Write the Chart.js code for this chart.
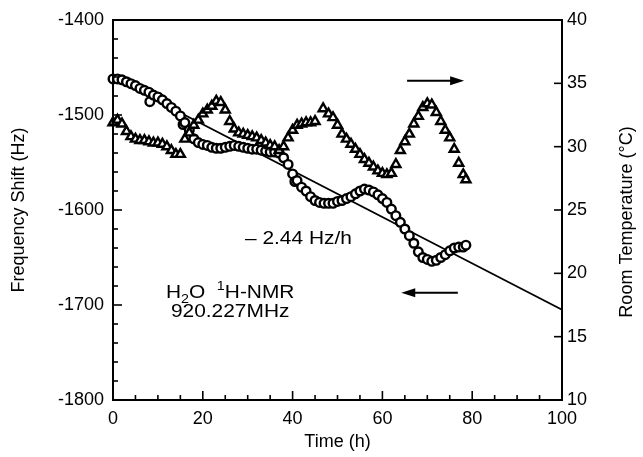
<!DOCTYPE html>
<html><head><meta charset="utf-8">
<script src="https://cdn.jsdelivr.net/npm/chart.js@4.4.0/dist/chart.umd.min.js"></script>
<style>html,body{margin:0;padding:0;background:#fff;overflow:hidden}</style>
</head><body>
<canvas id="c" width="643" height="457"></canvas>
<script>
// ---- data ----
const freqTime = [0,1,2,3,4,5,6,7,8,8.2,9,10,11,12,13,14,15,15.6,16,17,18,19,20,21,22,23,24,25,26,27,28,29,30,31,32,33,34,35,36,37,38,39,40,40.5,41,42,43,44,45,46,47,48,49,50,51,52,53,54,55,56,57,58,59,60,61,62,63,64,65,66,67,68,69,70,71,72,73,74,75,76,77,78,78.6];
const freqShift = [-1462,-1462,-1463,-1465,-1467,-1469,-1472,-1474,-1476,-1486,-1479,-1481,-1484,-1488,-1492,-1496,-1501,-1510,-1508,-1516,-1525,-1529,-1531,-1532,-1534,-1535,-1535,-1534,-1533,-1532,-1533,-1534,-1535,-1536,-1536,-1537,-1538,-1539,-1539,-1540,-1545,-1552,-1562,-1570,-1569,-1576,-1580,-1586,-1590,-1592,-1593,-1593,-1593,-1591,-1590,-1588,-1586,-1583,-1580,-1578,-1579,-1581,-1584,-1588,-1592,-1599,-1606,-1613,-1620,-1627,-1635,-1644,-1650,-1652,-1654,-1653,-1650,-1647,-1643,-1640,-1639,-1639,-1637];
const tempTime = [0,1,2,3,4,5,6,7,8,9,10,11,12,13,14,15,16,17,18,19,20,21,22,23,24,25,26,27,28,29,30,31,32,33,34,35,36,37,38,39,40,41,42,43,44,45,46.8,48,49,50,51,52,53,54,55,56,57,58,59,60,61,62,63,64,65,66,67,68,69,70,71,72,73,74,75,76,77,78,78.6];
const roomTemp = [31.9,32.1,31.8,31.2,30.8,30.6,30.5,30.5,30.4,30.3,30.3,30.2,30.0,29.7,29.4,29.4,30.6,31.1,31.7,32.1,32.6,32.9,33.2,33.6,33.5,32.9,32.0,31.4,31.1,31.0,30.9,30.8,30.7,30.5,30.3,30.1,30.0,29.7,30.0,30.7,31.3,31.7,31.8,31.9,31.9,32.0,33.0,32.6,32.3,31.7,31.0,30.6,30.2,29.8,29.4,29.0,28.7,28.4,28.1,27.9,27.8,27.9,28.6,29.7,30.4,31.0,31.8,32.4,33.1,33.4,33.3,32.7,32.0,31.3,30.7,29.8,28.7,27.8,27.4];
const fitTime = [0, 100];
const fitFreq = [-1461, -1705];
const slopeText = '\u2013 2.44 Hz/h';
const xMajorTicks = [0, 20, 40, 60, 80, 100];
const freqMajorTicks = [-1800, -1700, -1600, -1500, -1400];
const tempTicks = [10, 15, 20, 25, 30, 35, 40];

const FONT = '"Liberation Sans", Arial, Helvetica, sans-serif';
Chart.defaults.font.family = FONT;
Chart.defaults.color = '#000';

const pairs = (xs, ys) => xs.map((x, i) => ({x, y: ys[i]}));

const decor = {
  id: 'decor',
  afterDraw(chart) {
    const {ctx, chartArea: a, scales} = chart;
    const X = scales.x, Y = scales.y, Y2 = scales.y2;
    ctx.save();
    ctx.strokeStyle = '#000';
    ctx.fillStyle = '#000';
    ctx.lineWidth = 2;
    ctx.strokeRect(a.left, a.top, a.right - a.left, a.bottom - a.top);
    ctx.lineWidth = 1.6;
    const seg = (x1, y1, x2, y2) => { ctx.beginPath(); ctx.moveTo(x1, y1); ctx.lineTo(x2, y2); ctx.stroke(); };
    X.ticks.forEach(t => {
      const p = X.getPixelForValue(t.value);
      seg(p, a.bottom, p, a.bottom - (xMajorTicks.includes(t.value) ? 9 : 5));
    });
    Y.ticks.forEach(t => {
      const p = Y.getPixelForValue(t.value);
      seg(a.left, p, a.left + (freqMajorTicks.includes(t.value) ? 9 : 5), p);
    });
    Y2.ticks.forEach(t => {
      const p = Y2.getPixelForValue(t.value);
      seg(a.right, p, a.right - 8, p);
    });
    // arrows
    const arrow = (h1, h2, f) => {
      const x1 = X.getPixelForValue(h1), x2 = X.getPixelForValue(h2), y = Y.getPixelForValue(f);
      const dir = Math.sign(x2 - x1);
      ctx.lineWidth = 2;
      seg(x1, y, x2 - dir * 8, y);
      ctx.beginPath();
      ctx.moveTo(x2, y);
      ctx.lineTo(x2 - dir * 14, y - 4.5);
      ctx.lineTo(x2 - dir * 14, y + 4.5);
      ctx.closePath();
      ctx.fill();
    };
    arrow(65.5, 78.2, -1464);
    arrow(76.8, 64.2, -1687);
    // texts
    const sx = 1.1;
    const txt = (s, x, y, size, align) => {
      ctx.save();
      ctx.font = size + 'px ' + FONT;
      ctx.textBaseline = 'alphabetic';
      const w = ctx.measureText(s).width * sx;
      let x0 = x;
      if (align === 'center') x0 = x - w / 2;
      ctx.translate(x0, y);
      ctx.scale(sx, 1);
      ctx.fillText(s, 0, 0);
      ctx.restore();
      return w;
    };
    const measure = (s, size) => { ctx.font = size + 'px ' + FONT; return ctx.measureText(s).width * sx; };
    txt(slopeText, X.getPixelForValue(29.4), Y.getPixelForValue(-1636), 19, 'left');
    // H2O 1H-NMR
    const by = Y.getPixelForValue(-1693);
    const parts = [['H', 19, 0], ['2', 13, 5], ['O  ', 19, 0], ['1', 13, -8], ['H-NMR', 19, 0]];
    const total = parts.reduce((s, p) => s + measure(p[0], p[1]), 0);
    let cx = X.getPixelForValue(26.1) - total / 2;
    parts.forEach(p => { cx += txt(p[0], cx, by + p[2], p[1], 'left'); });
    txt('920.227MHz', X.getPixelForValue(26.1), Y.getPixelForValue(-1712.5), 19, 'center');
    // right axis title (reads bottom to top)
    ctx.save();
    ctx.font = '18px ' + FONT;
    ctx.textAlign = 'center';
    ctx.textBaseline = 'middle';
    ctx.translate(627, (a.top + a.bottom) / 2 + 12);
    ctx.rotate(-Math.PI / 2);
    ctx.fillText('Room Temperature (\u00B0C)', 0, 0);
    ctx.restore();
    ctx.restore();
  }
};

const tickFont = {size: 18, family: FONT};
new Chart(document.getElementById('c'), {
  type: 'scatter',
  data: {
    datasets: [
      {
        label: 'fit', type: 'line', data: pairs(fitTime, fitFreq), yAxisID: 'y',
        borderColor: '#000', borderWidth: 1.8, pointRadius: 0, fill: false, order: 3
      },
      {
        label: 'Frequency shift', data: pairs(freqTime, freqShift), yAxisID: 'y',
        pointStyle: 'circle', pointRadius: 4.3, pointBorderWidth: 2.4,
        pointBackgroundColor: '#fff', pointBorderColor: '#000', clip: false, order: 2
      },
      {
        label: 'Room temperature', data: pairs(tempTime, roomTemp), yAxisID: 'y2',
        pointStyle: 'triangle', pointRadius: 5.2, pointBorderWidth: 2.4,
        pointBackgroundColor: '#fff', pointBorderColor: '#000', clip: false, order: 1
      }
    ]
  },
  options: {
    responsive: false, animation: false, devicePixelRatio: 1,
    layout: {padding: {top: 20, left: 0, right: 0, bottom: 0}},
    plugins: {legend: {display: false}, tooltip: {enabled: false}},
    scales: {
      x: {
        type: 'linear', position: 'bottom', min: 0, max: 100,
        grid: {display: false, drawTicks: false}, border: {display: false},
        ticks: {stepSize: 5, autoSkip: false, maxRotation: 0, padding: 8, font: tickFont, color: '#000',
          callback: v => xMajorTicks.includes(v) ? String(v) : ''},
        title: {display: true, text: 'Time (h)', font: {size: 18, family: FONT}, color: '#000', padding: {top: 0, bottom: 4}},
        afterFit: s => { s.height = 57; }
      },
      y: {
        type: 'linear', position: 'left', min: -1800, max: -1400,
        grid: {display: false, drawTicks: false}, border: {display: false},
        ticks: {stepSize: 20, autoSkip: false, padding: 9, font: tickFont, color: '#000',
          callback: v => freqMajorTicks.includes(v) ? String(v) : ''},
        title: {display: true, text: 'Frequency Shift (Hz)', font: {size: 18, family: FONT}, color: '#000', padding: {top: 8, bottom: 0}},
        afterFit: s => { s.width = 113; }
      },
      y2: {
        type: 'linear', position: 'right', min: 10, max: 40,
        grid: {display: false, drawTicks: false}, border: {display: false},
        ticks: {stepSize: 5, autoSkip: false, padding: 5, font: tickFont, color: '#000',
          callback: v => tempTicks.includes(v) ? String(v) : ''},
        afterFit: s => { s.width = 81; }
      }
    }
  },
  plugins: [decor]
});
</script>
</body></html>
